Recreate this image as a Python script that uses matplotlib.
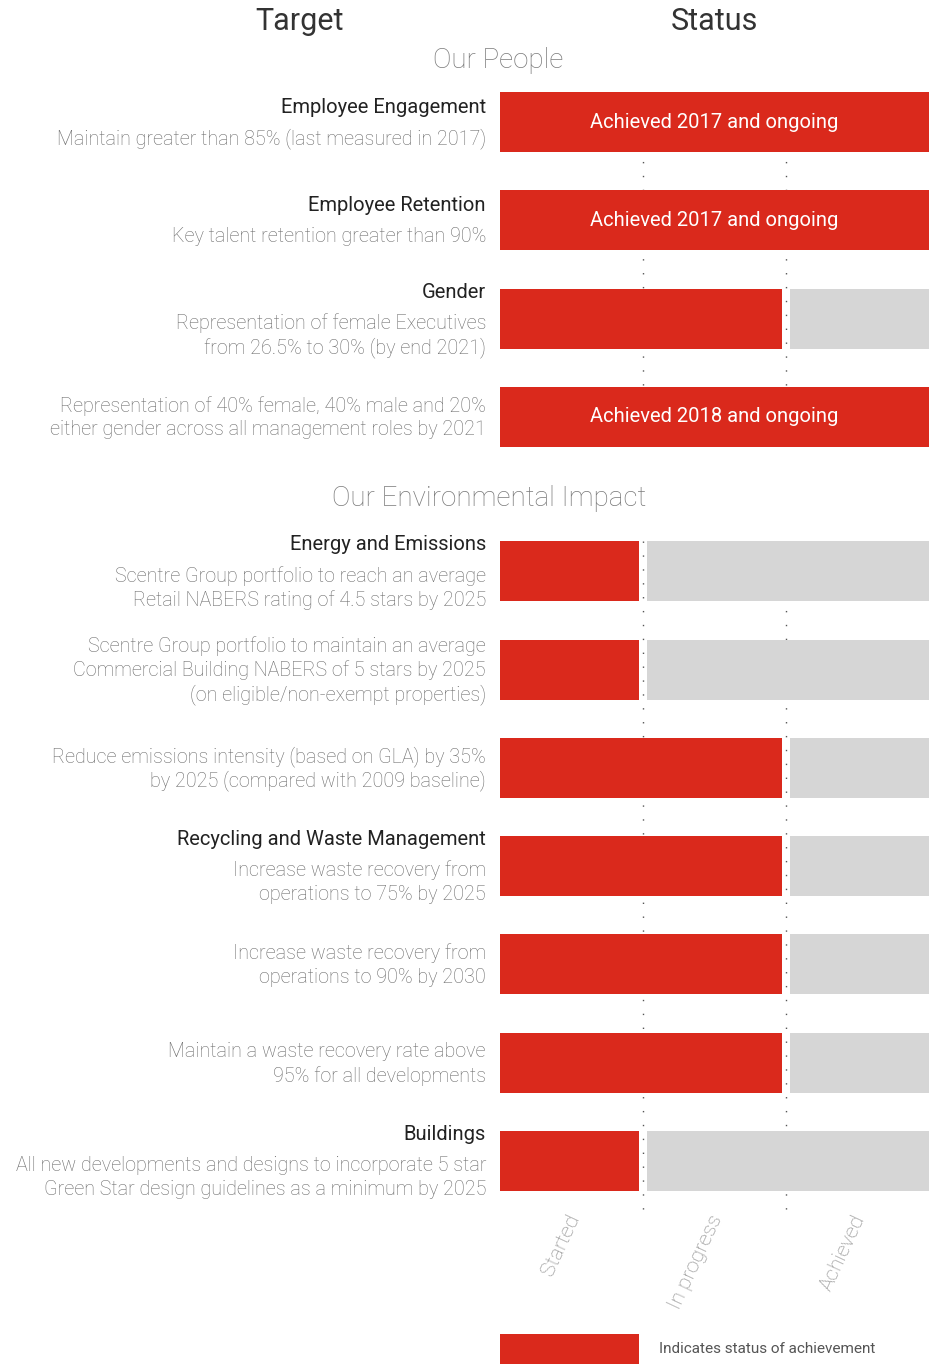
import matplotlib
matplotlib.use("Agg")
import matplotlib.pyplot as plt

# status scale: 0 = nothing, 1 = started, 2 = in progress, 3 = achieved
heads = ["Employee Engagement", "Employee Retention", "Gender", "",
         "Energy and Emissions", "", "", "Recycling and Waste Management", "", "", "Buildings"]
descs = [
    ["Maintain greater than 85% (last measured in 2017)"],
    ["Key talent retention greater than 90%"],
    ["Representation of female Executives", "from 26.5% to 30% (by end 2021)"],
    ["Representation of 40% female, 40% male and 20%", "either gender across all management roles by 2021"],
    ["Scentre Group portfolio to reach an average", "Retail NABERS rating of 4.5 stars by 2025"],
    ["Scentre Group portfolio to maintain an average", "Commercial Building NABERS of 5 stars by 2025",
     "(on eligible/non-exempt properties)"],
    ["Reduce emissions intensity (based on GLA) by 35%", "by 2025 (compared with 2009 baseline)"],
    ["Increase waste recovery from", "operations to 75% by 2025"],
    ["Increase waste recovery from", "operations to 90% by 2030"],
    ["Maintain a waste recovery rate above", "95% for all developments"],
    ["All new developments and designs to incorporate 5 star", "Green Star design guidelines as a minimum by 2025"],
]
status = [3, 3, 2, 3, 1, 1, 2, 2, 2, 2, 1]
bar_text = ["Achieved 2017 and ongoing", "Achieved 2017 and ongoing", "", "Achieved 2018 and ongoing",
            "", "", "", "", "", "", ""]
section = [0, 0, 0, 0, 1, 1, 1, 1, 1, 1, 1]
stages = ["Started", "In progress", "Achieved"]

RED = "#DA291C"
GREY = "#D6D6D6"
FONT = ["Roboto", "DejaVu Sans"]

W, H = 932, 1367
fig = plt.figure(figsize=(W / 100, H / 100), dpi=100)

# full-figure axes in pixel units for the text
tax = fig.add_axes([0, 0, 1, 1])
tax.set_xlim(0, W)
tax.set_ylim(H, 0)
tax.axis("off")

# bar axes: x in status units, y in pixels
bax = fig.add_axes([500 / W, 0, 429 / W, 1])
bax.set_xlim(0, 3)
bax.set_ylim(H, 0)
bax.axis("off")

ys = [122 + 98.3 * i + 56 * section[i] for i in range(len(status))]
bh = 60

# dotted guides, one run per section
for sec in [0, 1]:
    rows = [y for y, s in zip(ys, section) if s == sec]
    y0 = rows[0] - bh / 2
    y1 = rows[-1] + bh / 2 + (30 if sec == 1 else 0)
    for s in [1, 2]:
        bax.vlines(s, y0, y1, color="#555555", lw=1.0, linestyles=(0, (1, 9)), zorder=1)

gap = 0.025
for y, s, t in zip(ys, status, bar_text):
    if s >= 3:
        bax.barh(y, 3, height=bh, color=RED, zorder=2)
        bax.text(1.5, y, t, color="white", fontsize=14.5, ha="center", va="center",
                 family=FONT, weight="normal", zorder=3)
    else:
        bax.barh(y, s - gap, height=bh, color=RED, zorder=2)
        bax.barh(y, 3 - s - gap, left=s + gap, height=bh, color=GREY, zorder=2)

for i, lab in enumerate(stages):
    bax.text(i + 0.58, 1212, lab, rotation=65, ha="right", va="top", fontsize=15,
             color="#8a8a8a", family=FONT, weight="light")

# left column text
for y, h, d in zip(ys, heads, descs):
    lines = ([(h, True)] if h else []) + [(l, False) for l in d]
    offs = []
    cur = 0
    for k, (txt, bold) in enumerate(lines):
        if k > 0:
            cur += 31 if lines[k - 1][1] else 24
        offs.append(cur)
    top = y + 1 - cur / 2
    for (txt, bold), o in zip(lines, offs):
        if bold:
            tax.text(486, top + o, txt, ha="right", va="center", fontsize=14.5,
                     color="#222222", family=FONT, weight="normal")
        else:
            tax.text(486, top + o, txt, ha="right", va="center", fontsize=14.2,
                     color="#6a6a6a", family=FONT, weight="light")

tax.text(300, 22, "Target", ha="center", va="center", fontsize=22, color="#333333",
         family=FONT, weight="normal")
tax.text(714, 22, "Status", ha="center", va="center", fontsize=22, color="#333333",
         family=FONT, weight="normal")
tax.text(498, 60, "Our People", ha="center", va="center", fontsize=20, color="#7a7a7a",
         family=FONT, weight="light")
tax.text(489, 498, "Our Environmental Impact", ha="center", va="center", fontsize=20,
         color="#7a7a7a", family=FONT, weight="light")

# legend
bax.barh(1349, 1 - gap, height=30, color=RED)
tax.text(659, 1349, "Indicates status of achievement", ha="left", va="center", fontsize=11,
         color="#555555", family=FONT)

fig.savefig("out.png", dpi=100)
